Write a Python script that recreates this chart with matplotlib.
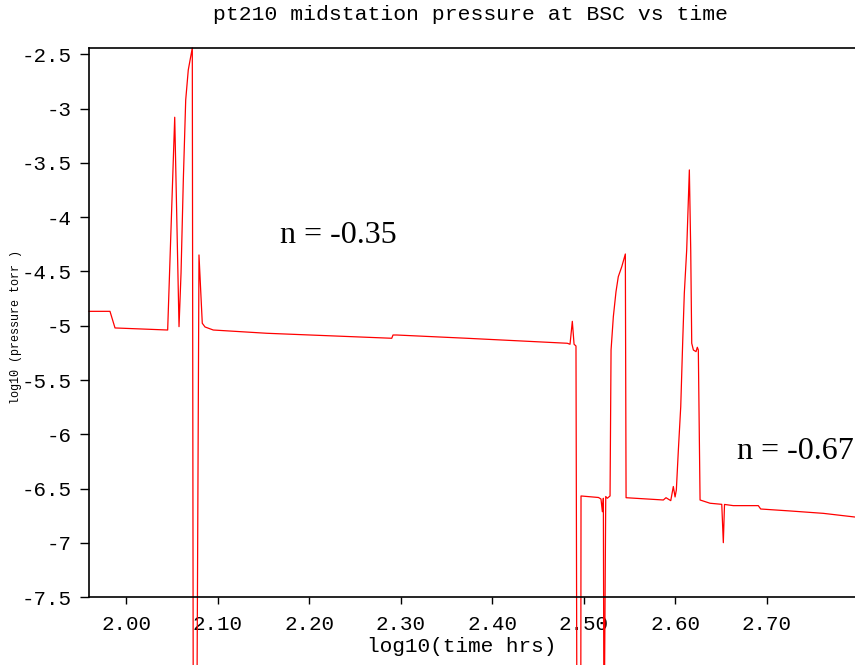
import matplotlib
matplotlib.use('Agg')
import matplotlib.pyplot as plt

# log10(time hrs) vs log10(pressure torr)
log_t = [1.9596, 1.9825, 1.9880, 2.0153, 2.0455, 2.0532, 2.0579, 2.0601, 2.0626,
         2.0652, 2.0680, 2.0724, 2.0735, 2.0772, 2.0797, 2.0833, 2.0863, 2.0953,
         2.1537, 2.2902, 2.2916, 2.2956, 2.3721, 2.4819, 2.4849, 2.4874, 2.4893,
         2.4914, 2.4925, 2.4966, 2.4969, 2.5160, 2.5187, 2.5202, 2.5213, 2.5220,
         2.5239, 2.5256, 2.5286, 2.5297, 2.5322, 2.5351, 2.5376, 2.5414, 2.5453,
         2.5461, 2.5868, 2.5897, 2.5949, 2.5977, 2.5996, 2.6010, 2.6032, 2.6058,
         2.6080, 2.6097, 2.6123, 2.6152, 2.6167, 2.6178, 2.6196, 2.6225, 2.6239,
         2.6250, 2.6269, 2.6378, 2.6506, 2.6523, 2.6536, 2.6632, 2.6905, 2.6931,
         2.7252, 2.7615, 2.7961]
log_p = [-4.867, -4.867, -5.020, -5.029, -5.039, -3.080, -5.008, -4.514, -3.657,
         -2.921, -2.645, -2.442, -9.0, -9.0, -4.348, -4.977, -5.011, -5.039,
         -5.069, -5.115, -5.085, -5.085, -5.115, -5.161, -5.170, -4.959, -5.170,
         -5.186, -9.0, -9.0, -6.567, -6.581, -6.595, -6.712, -6.588, -9.0,
         -6.572, -6.588, -6.567, -5.223, -4.916, -4.686, -4.548, -4.456, -4.339,
         -6.583, -6.604, -6.583, -6.610, -6.480, -6.576, -6.512, -6.144, -5.745,
         -5.131, -4.701, -4.302, -3.565, -4.302, -5.161, -5.223, -5.238, -5.198,
         -5.223, -6.604, -6.634, -6.644, -6.997, -6.645, -6.656, -6.656, -6.687,
         -6.705, -6.727, -6.761]

xticks = [2.0, 2.1, 2.2, 2.3, 2.4, 2.5, 2.6, 2.7]
xtick_labels = ['2.00', '2.10', '2.20', '2.30', '2.40', '2.50', '2.60', '2.70']
yticks = [-2.5, -3, -3.5, -4, -4.5, -5, -5.5, -6, -6.5, -7, -7.5]
ytick_labels = ['-2.5', '-3', '-3.5', '-4', '-4.5', '-5', '-5.5', '-6', '-6.5', '-7', '-7.5']

mono = 'Liberation Mono'

fig = plt.figure(figsize=(8.55, 6.65), dpi=100)
ax = fig.add_axes([0.1041, 0.1018, 0.8959, 0.8256])

ax.plot(log_t, log_p, color='red', linewidth=0.9, clip_on=False)
ax.set_xlim(1.9596, 2.7961)
ax.set_ylim(-7.5, -2.445)

ax.set_xticks(xticks)
ax.set_xticklabels(xtick_labels, fontfamily=mono, fontsize=15)
ax.set_yticks(yticks)
ax.set_yticklabels(ytick_labels, fontfamily=mono, fontsize=15)
ax.tick_params(axis='y', direction='out', length=6.5, width=1, pad=6)
ax.tick_params(axis='x', direction='out', length=5, width=1, pad=7.5)
ax.spines['right'].set_visible(False)
for s in ['left', 'bottom', 'top']:
    ax.spines[s].set_linewidth(1.2)

ax.text(2.1682, -4.173, 'n = -0.35', fontfamily='Liberation Serif', fontsize=23,
        ha='left', va='center')
ax.text(2.6673, -6.162, 'n = -0.67', fontfamily='Liberation Serif', fontsize=23,
        ha='left', va='center')

fig.text(470 / 855, 1 - 15 / 665, 'pt210 midstation pressure at BSC vs time',
         fontfamily=mono, fontsize=15.4, ha='center', va='center')
fig.text(462 / 855, 1 - 646 / 665, 'log10(time hrs)',
         fontfamily=mono, fontsize=15.2, ha='center', va='center')
fig.text(16 / 855, 1 - 327 / 665, 'log10 (pressure torr )',
         fontfamily=mono, fontsize=8.5, rotation=90, ha='center', va='center')

fig.savefig('out.png', dpi=100)
